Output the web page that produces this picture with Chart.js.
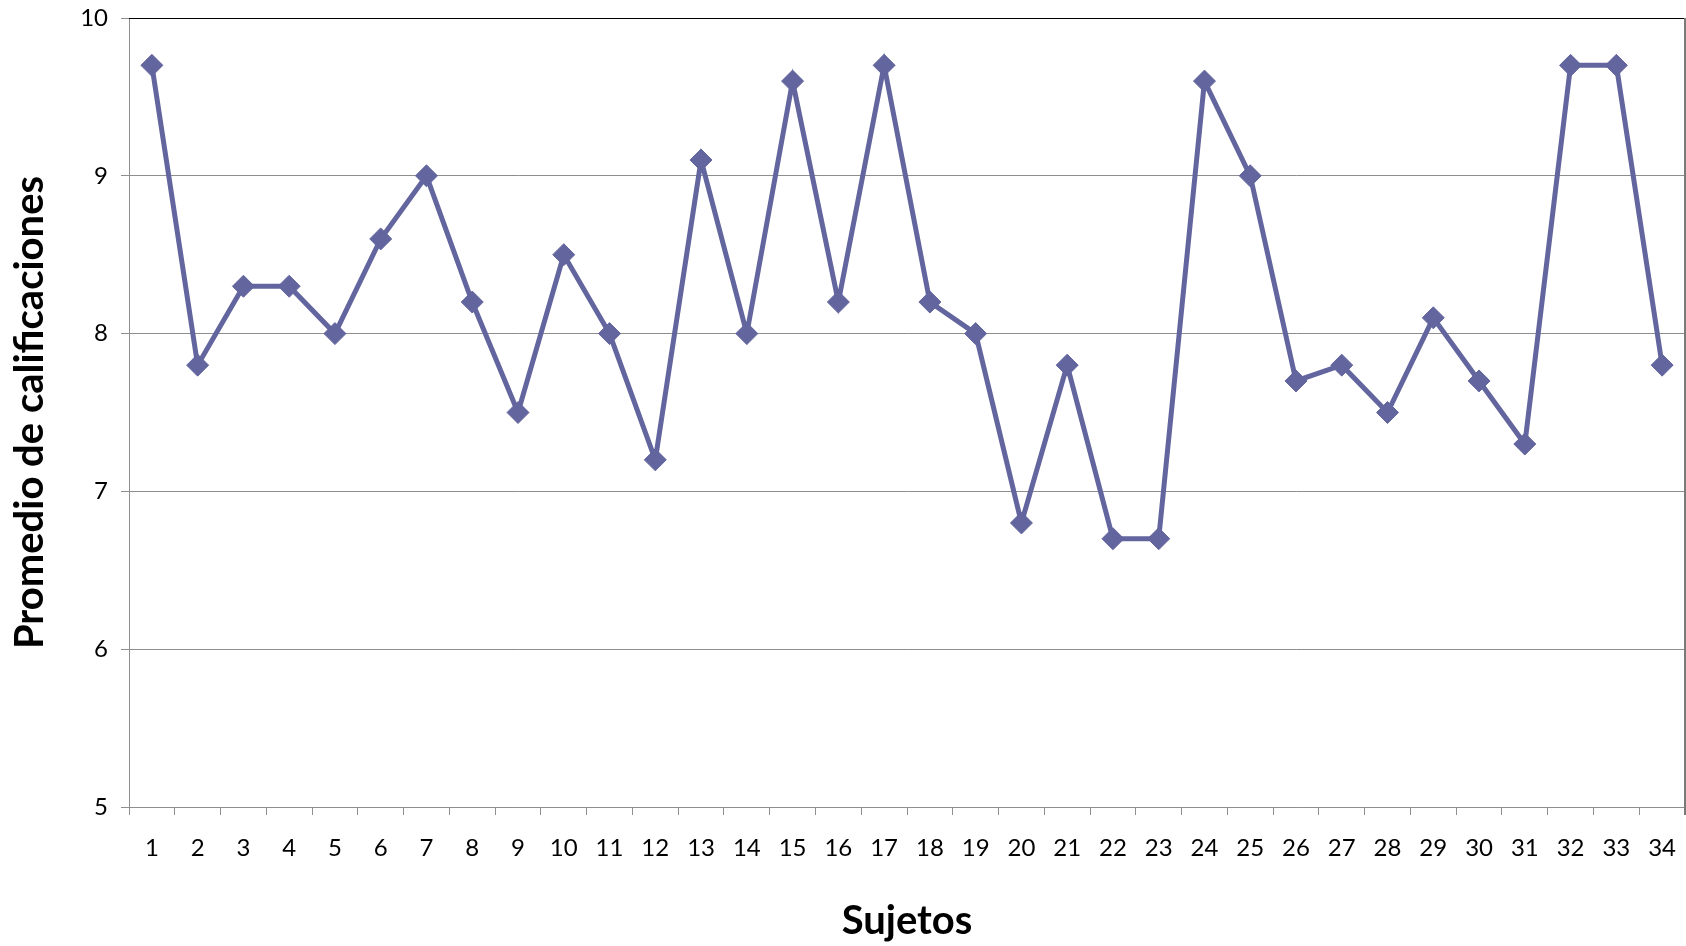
<!DOCTYPE html>
<html lang="es">
<head>
<meta charset="utf-8">
<title>Promedio de calificaciones por sujeto</title>
<script src="https://cdn.jsdelivr.net/npm/chart.js@4/dist/chart.umd.min.js"></script>
<style>
  html, body { margin: 0; padding: 0; background: #ffffff; overflow: hidden; }
  #wrap { width: 1686px; height: 946px; }
  #chart { display: block; }
</style>
</head>
<body>
<div id="wrap"><canvas id="chart" width="1686" height="946"></canvas></div>
<script>
// Sujetos 1..34 y su promedio de calificaciones
const sujetos = ['1','2','3','4','5','6','7','8','9','10','11','12','13','14','15','16','17',
                 '18','19','20','21','22','23','24','25','26','27','28','29','30','31','32','33','34'];
const promedios = [9.7, 7.8, 8.3, 8.3, 8.0, 8.6, 9.0, 8.2, 7.5, 8.5, 8.0, 7.2, 9.1, 8.0, 9.6, 8.2, 9.7,
                   8.2, 8.0, 6.8, 7.8, 6.7, 6.7, 9.6, 9.0, 7.7, 7.8, 7.5, 8.1, 7.7, 7.3, 9.7, 9.7, 7.8];
const yTicks = [5, 6, 7, 8, 9, 10];

const tituloX = 'Sujetos';
const tituloY = 'Promedio de calificaciones';

const FONT = 'Lato, "Open Sans", "Liberation Sans", sans-serif';
const SERIE = '#63659e';
const GRIS = '#8e8e8e';

// Borde superior y derecho del área de trazado
const marcoArea = {
  id: 'marcoArea',
  beforeDatasetsDraw(chart) {
    const { ctx, chartArea: a } = chart;
    ctx.save();
    ctx.strokeStyle = '#000000';
    ctx.lineWidth = 1;
    ctx.beginPath();
    ctx.moveTo(a.left, a.top + 0.5);
    ctx.lineTo(a.right, a.top + 0.5);
    ctx.stroke();
    ctx.strokeStyle = '#7a7a7a';
    ctx.lineWidth = 2;
    ctx.beginPath();
    ctx.moveTo(a.right, a.top);
    ctx.lineTo(a.right, a.bottom + 8);
    ctx.stroke();
    ctx.restore();
  }
};

// Sin márgenes automáticos para las etiquetas de los extremos
function sinMargenes(scale) {
  scale.paddingTop = 0;
  scale.paddingBottom = 0;
  scale.paddingLeft = 0;
  scale.paddingRight = 0;
}

new Chart(document.getElementById('chart'), {
  type: 'line',
  data: {
    labels: sujetos,
    datasets: [{
      data: promedios,
      borderColor: SERIE,
      backgroundColor: SERIE,
      borderWidth: 5,
      pointStyle: 'rectRot',
      pointRadius: 11,
      pointHoverRadius: 11,
      pointBorderWidth: 1,
      pointBorderColor: SERIE,
      pointBackgroundColor: SERIE,
      tension: 0,
      fill: false,
      clip: false
    }]
  },
  options: {
    responsive: false,
    animation: false,
    layout: { autoPadding: false, padding: { left: 0, top: 18, right: 1, bottom: 0 } },
    plugins: {
      legend: { display: false },
      tooltip: { enabled: false }
    },
    scales: {
      x: {
        type: 'category',
        offset: true,
        grid: {
          offset: true,
          drawOnChartArea: false,
          drawTicks: true,
          tickLength: 8,
          color: GRIS,
          lineWidth: 1
        },
        border: { display: true, color: GRIS, width: 1 },
        ticks: {
          color: '#000000',
          font: { family: FONT, size: 24 },
          padding: 19,
          maxRotation: 0,
          autoSkip: false
        },
        title: {
          display: true,
          text: tituloX,
          color: '#000000',
          font: { family: FONT, size: 40, weight: 'bold' },
          padding: { top: 0, bottom: 1 }
        },
        afterFit(scale) { scale.height = 139; sinMargenes(scale); }
      },
      y: {
        min: 5,
        max: 10,
        afterBuildTicks(scale) { scale.ticks = yTicks.map(v => ({ value: v })); },
        grid: {
          color: (c) => (c.tick && c.tick.value === 10) ? 'rgba(0,0,0,0)' : GRIS,
          tickColor: GRIS,
          drawTicks: true,
          tickLength: 8,
          lineWidth: 1
        },
        border: { display: true, color: GRIS, width: 1 },
        ticks: {
          color: '#000000',
          font: { family: FONT, size: 24 },
          padding: 13
        },
        title: {
          display: true,
          text: tituloY,
          color: '#000000',
          font: { family: FONT, size: 40, weight: 'bold' },
          padding: { top: 6, bottom: 0 }
        },
        afterFit(scale) { scale.width = 129; sinMargenes(scale); }
      }
    }
  },
  plugins: [marcoArea]
});
</script>
</body>
</html>
